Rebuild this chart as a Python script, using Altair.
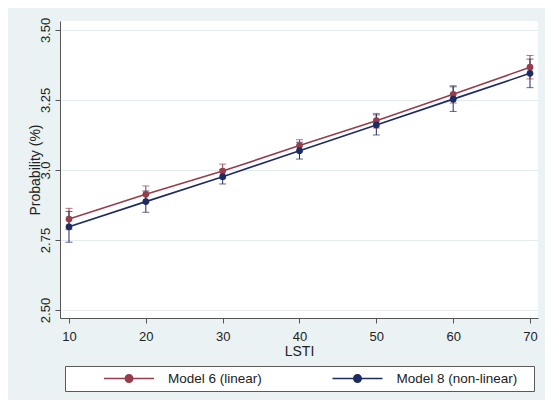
import altair as alt
import pandas as pd

# ---- data ----
lsti = [10, 20, 30, 40, 50, 60, 70]
series_names = ["Model 6 (linear)", "Model 8 (non-linear)"]
m6_prob = [2.825, 2.913, 2.996, 3.087, 3.176, 3.270, 3.367]
m6_lo = [2.787, 2.883, 2.971, 3.066, 3.150, 3.239, 3.325]
m6_hi = [2.863, 2.943, 3.021, 3.108, 3.202, 3.301, 3.409]
m8_prob = [2.797, 2.887, 2.976, 3.069, 3.161, 3.253, 3.345]
m8_lo = [2.742, 2.849, 2.950, 3.039, 3.125, 3.209, 3.294]
m8_hi = [2.852, 2.925, 3.002, 3.099, 3.197, 3.297, 3.396]
series_colors = ["#963d4b", "#1d2b63"]
y_ticks = [2.5, 2.75, 3.0, 3.25, 3.5]
y_tick_labels = ["2.50", "2.75", "3.0", "3.25", "3.50"]
x_ticks = [10, 20, 30, 40, 50, 60, 70]

rows = []
for name, p, lo, hi in [(series_names[0], m6_prob, m6_lo, m6_hi),
                        (series_names[1], m8_prob, m8_lo, m8_hi)]:
    for i, x in enumerate(lsti):
        rows.append({"model": name, "lsti": x, "prob": p[i], "lo": lo[i], "hi": hi[i]})
df = pd.DataFrame(rows)

FONT = "Liberation Sans"
TXT = "#222222"
AX = "#555555"

label_expr = ""
for v, s in zip(y_ticks, y_tick_labels):
    label_expr += f"datum.value == {v} ? '{s}' : "
label_expr += "''"

yscale = alt.Scale(domain=[2.4714, 3.532], nice=False, zero=False)
xscale = alt.Scale(domain=[8.83, 71.04], nice=False, zero=False)

yaxis = alt.Axis(
    values=y_ticks, labelExpr=label_expr, labelAngle=270, labelAlign="center",
    labelBaseline="middle", labelPadding=10, tickSize=5, grid=True,
    gridColor="#e3ebee", gridWidth=1.2, domainColor=AX, tickColor=AX,
    labelFontSize=13, labelFont=FONT, labelColor=TXT, labelOverlap=False, labelFlush=False,
    title="Probability (%)", titleFont=FONT, titleFontSize=14, titleFontWeight="normal",
    titleColor=TXT, titleAngle=270, titleX=-24.5, titleY=148.5, titleAlign="center",
    titleBaseline="middle",
)
xaxis = alt.Axis(
    values=x_ticks, format="d", labelBaseline="middle", labelPadding=13.5, tickSize=5,
    grid=False, domainColor=AX, tickColor=AX, labelFontSize=13, labelFont=FONT,
    labelColor=TXT, labelOverlap=False, labelFlush=False,
    title="LSTI", titleFont=FONT, titleFontSize=14, titleFontWeight="normal",
    titleColor=TXT, titleY=33.5, titleBaseline="middle",
)

circles = "".join(f"M{c},0A{c},{c},0,1,1,{-c},0A{c},{c},0,1,1,{c},0" for c in [0.15, 0.1, 0.05])
symbol_path = "M-1,0H1" + circles

legend = alt.Legend(
    title=" ", titleOrient="left", titleFontSize=1, titlePadding=32,
    orient="none", legendX=5, legendY=345, direction="horizontal",
    padding=6, strokeColor="#5a5a5a", fillColor="white",
    symbolType=symbol_path, symbolSize=2500, symbolStrokeWidth=1.5, clipHeight=13,
    labelFontSize=13.5, labelOffset=13, columnPadding=59.5, labelFont=FONT, labelColor=TXT,
    labelExpr="datum.label + '\u2800'", symbolOpacity=1,
)

color = alt.Color("model:N", scale=alt.Scale(domain=series_names, range=series_colors),
                  legend=legend)

base = alt.Chart(df).encode(
    x=alt.X("lsti:Q", scale=xscale, axis=xaxis),
    color=color,
)

rules = base.mark_rule(strokeWidth=1).encode(
    y=alt.Y("lo:Q", scale=yscale, axis=yaxis), y2="hi:Q")
caps_lo = base.mark_tick(orient="horizontal", size=7, thickness=1).encode(
    y=alt.Y("lo:Q", scale=yscale, axis=yaxis))
caps_hi = base.mark_tick(orient="horizontal", size=7, thickness=1).encode(
    y=alt.Y("hi:Q", scale=yscale, axis=yaxis))
lines = base.mark_line(strokeWidth=1.6).encode(
    y=alt.Y("prob:Q", scale=yscale, axis=yaxis))
points = base.mark_point(filled=True, size=45, opacity=1).encode(
    y=alt.Y("prob:Q", scale=yscale, axis=yaxis))

chart = alt.layer(rules, caps_lo, caps_hi, lines, points).properties(
    width=478, height=297,
    autosize=alt.AutoSizeParams(type="none"),
    padding={"left": 52, "top": 13, "right": 7, "bottom": 82},
    background="#eaf2f3",
).configure_view(fill="white", strokeWidth=0)

chart.save("out.html", embed_options={"renderer": "svg", "actions": False})
